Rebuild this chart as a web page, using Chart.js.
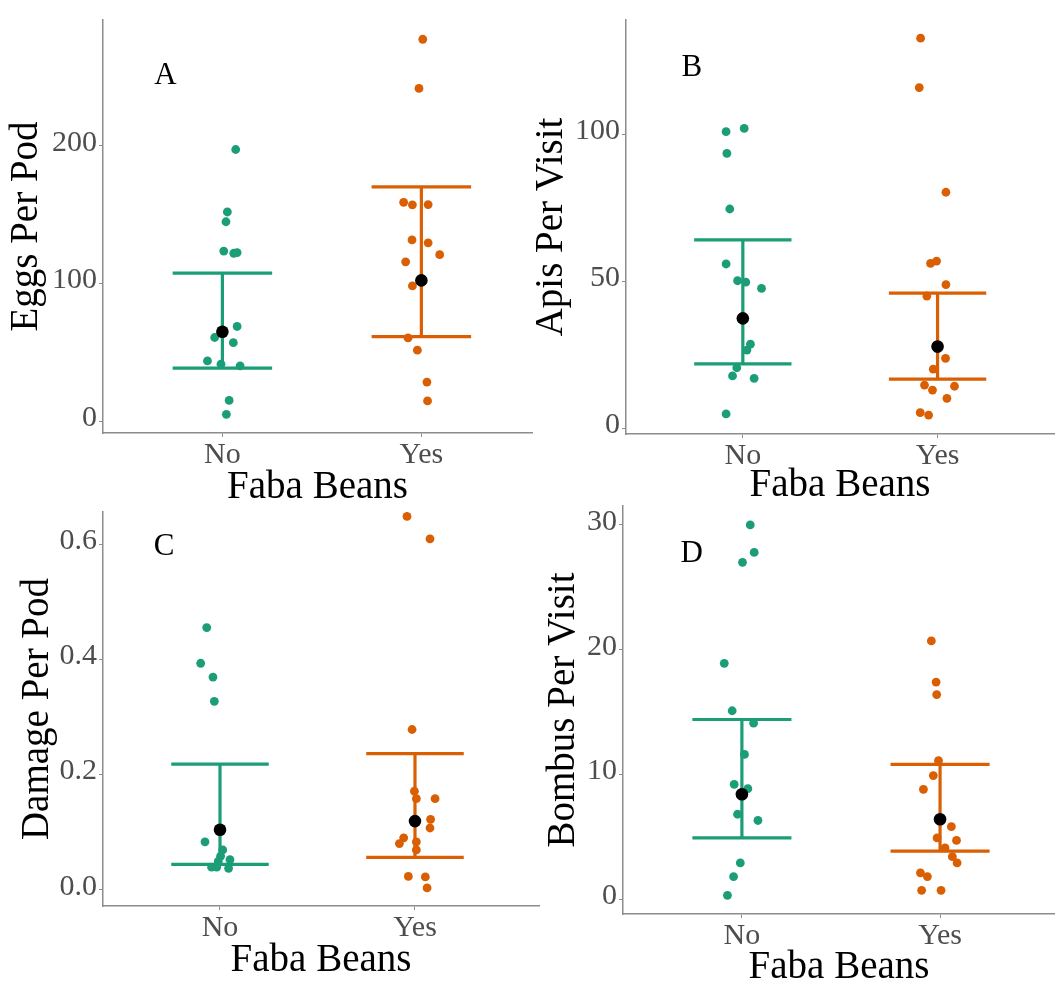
<!DOCTYPE html>
<html>
<head>
<meta charset="utf-8">
<script src="https://cdn.jsdelivr.net/npm/chart.js@4/dist/chart.umd.min.js"></script>
<style>
  html, body { margin: 0; padding: 0; background: #fff; overflow: hidden; }
  .panel { position: absolute; }
</style>
</head>
<body>
<div class="panel" style="left:0px;top:0px;"><canvas id="panelA" width="540" height="511"></canvas></div>
<div class="panel" style="left:526px;top:0px;"><canvas id="panelB" width="529" height="509"></canvas></div>
<div class="panel" style="left:0px;top:480px;"><canvas id="panelC" width="545" height="504"></canvas></div>
<div class="panel" style="left:526px;top:480px;"><canvas id="panelD" width="529" height="511"></canvas></div>
<script>
// categorias del eje x
const groups = ['No', 'Yes'];
const xTitle = 'Faba Beans';

// Panel A - Eggs Per Pod
const eggsNoX  = [1.067, 1.025, 1.018, 1.007, 1.057, 1.074, 1.074, 0.961, 1.055, 0.925, 0.993, 1.089, 1.034, 1.020];
const eggsNoY  = [197.4, 152, 144.9, 123.6, 122, 122.5, 68.8, 60.8, 57, 43.8, 41.4, 40.2, 15.1, 5];
const eggsYesX = [2.007, 1.988, 1.911, 1.955, 2.034, 1.953, 2.034, 2.092, 1.921, 1.955, 1.933, 1.980, 2.028, 2.031];
const eggsYesY = [277.5, 241.8, 159, 157.2, 157.4, 131.7, 129.6, 121, 115.8, 98.3, 60.5, 51.6, 28.4, 14.7];
const eggsMean = [65, 102.3];
const eggsLow  = [38.5, 61.5];
const eggsHigh = [107.6, 170.2];
const eggsTicks = [0, 100, 200];

// Panel B - Apis Per Visit
const apisNoX  = [0.914, 1.007, 0.918, 0.933, 0.914, 0.973, 1.015, 1.096, 1.039, 1.021, 0.969, 0.947, 1.058, 0.914];
const apisNoY  = [100.9, 102, 93.5, 74.6, 55.9, 50.2, 49.7, 47.6, 28.6, 26.6, 20.6, 17.8, 17, 4.9];
const apisYesX = [1.913, 1.906, 2.043, 1.964, 1.995, 2.043, 1.945, 2.041, 1.978, 1.933, 1.974, 2.087, 2.048, 1.911, 1.954];
const apisYesY = [132.7, 115.9, 80.3, 56.1, 56.9, 48.9, 45, 23.8, 20.1, 14.7, 13, 14.3, 10.2, 5.3, 4.5];
const apisMean = [37.4, 27.8];
const apisLow  = [21.9, 16.7];
const apisHigh = [64.1, 46];
const apisTicks = [0, 50, 100];

// Panel C - Damage Per Pod
const dmgNoX  = [0.932, 0.901, 0.964, 0.971, 1.003, 0.923, 1.014, 1.003, 0.991, 1.051, 0.957, 0.983, 1.044];
const dmgNoY  = [0.455, 0.393, 0.369, 0.327, 0.104, 0.083, 0.069, 0.058, 0.049, 0.052, 0.039, 0.039, 0.037];
const dmgYesX = [1.959, 2.077, 1.985, 1.997, 2.007, 2.103, 2.080, 2.077, 1.942, 1.920, 2.007, 2.007, 1.966, 2.053, 2.062];
const dmgYesY = [0.648, 0.609, 0.278, 0.171, 0.158, 0.158, 0.122, 0.107, 0.090, 0.080, 0.083, 0.069, 0.023, 0.022, 0.003];
const dmgMean = [0.104, 0.119];
const dmgLow  = [0.044, 0.056];
const dmgHigh = [0.218, 0.236];
const dmgTicks = [0, 0.2, 0.4, 0.6];

// Panel D - Bombus Per Visit
const bombNoX  = [1.042, 1.062, 1.003, 0.911, 0.951, 1.059, 1.013, 0.961, 1.030, 0.978, 1.081, 0.992, 0.958, 0.927];
const bombNoY  = [30.0, 27.8, 27.0, 18.9, 15.1, 14.1, 11.6, 9.2, 8.85, 6.8, 6.3, 2.9, 1.8, 0.3];
const bombYesX = [1.956, 1.980, 1.983, 1.992, 1.966, 1.916, 2.057, 1.985, 2.083, 2.025, 2.062, 2.086, 1.901, 1.936, 1.907, 2.005];
const bombYesY = [20.7, 17.4, 16.4, 11.1, 9.9, 8.8, 5.8, 4.9, 4.7, 4.1, 3.4, 2.9, 2.1, 1.8, 0.7, 0.7];
const bombMean = [8.4, 6.4];
const bombLow  = [4.9, 3.85];
const bombHigh = [14.4, 10.8];
const bombTicks = [0, 10, 20, 30];

const colNo = '#1B9E77';
const colYes = '#D95F02';
const axisGrey = '#8c8c8c';
const FONT = "'Liberation Serif', 'Times New Roman', serif";

// Letra del panel (A, B, C, D)
const panelLetterPlugin = {
    id: 'panelLetter',
    afterDatasetsDraw(chart, args, opts) {
        const ctx = chart.ctx;
        ctx.save();
        ctx.font = `31px ${FONT}`;
        ctx.fillStyle = '#000';
        ctx.textAlign = 'center';
        ctx.textBaseline = 'alphabetic';
        ctx.fillText(opts.text, chart.scales.x.getPixelForValue(opts.x), chart.scales.y.getPixelForValue(opts.y) + 10);
        ctx.restore();
    }
};

function zip(xs, ys) {
    return xs.map((x, i) => ({ x: x, y: ys[i] }));
}

function buildPanel(id, cfg) {
    const datasets = [];
    const cap = 0.25;
    [colNo, colYes].forEach((col, g) => {
        const cx = g + 1;
        // barra de error: vertical + dos topes
        datasets.push({ data: [{ x: cx, y: cfg.low[g] }, { x: cx, y: cfg.high[g] }], borderColor: col, borderWidth: 3.2, showLine: true, pointRadius: 0, order: 3 });
        datasets.push({ data: [{ x: cx - cap, y: cfg.high[g] }, { x: cx + cap, y: cfg.high[g] }], borderColor: col, borderWidth: 3.2, showLine: true, pointRadius: 0, order: 3 });
        datasets.push({ data: [{ x: cx - cap, y: cfg.low[g] }, { x: cx + cap, y: cfg.low[g] }], borderColor: col, borderWidth: 3.2, showLine: true, pointRadius: 0, order: 3 });
    });
    datasets.push({ data: zip(cfg.noX, cfg.noY), backgroundColor: colNo, borderWidth: 0, pointRadius: 4.4, order: 2 });
    datasets.push({ data: zip(cfg.yesX, cfg.yesY), backgroundColor: colYes, borderWidth: 0, pointRadius: 4.4, order: 2 });
    datasets.push({ data: zip([1, 2], cfg.mean), backgroundColor: '#000', borderWidth: 0, pointRadius: 6.3, order: 1 });

    return new Chart(document.getElementById(id), {
        type: 'scatter',
        data: { datasets: datasets },
        plugins: [panelLetterPlugin],
        options: {
            responsive: false,
            animation: false,
            layout: { autoPadding: false, padding: { top: cfg.padTop, right: cfg.padRight, left: 0, bottom: 0 } },
            plugins: {
                legend: { display: false },
                tooltip: { enabled: false },
                panelLetter: cfg.letter
            },
            scales: {
                x: {
                    type: 'linear',
                    min: 0.4,
                    max: cfg.xMax,
                    afterBuildTicks: s => { s.ticks = [{ value: 1 }, { value: 2 }]; },
                    afterFit: s => { s.height = cfg.xh; },
                    border: { display: true, color: axisGrey, width: 1.5 },
                    grid: { drawOnChartArea: false, drawTicks: true, tickLength: 4, color: axisGrey },
                    ticks: {
                        autoSkip: false, maxRotation: 0, padding: 0,
                        color: '#4d4d4d',
                        font: { family: FONT, size: 30 },
                        callback: v => groups[Math.round(v) - 1]
                    },
                    title: { display: true, text: xTitle, color: '#000', font: { family: FONT, size: 39 }, padding: { top: 0, bottom: 0 } }
                },
                y: {
                    min: cfg.yMin,
                    max: cfg.yMax,
                    afterBuildTicks: s => { s.ticks = cfg.yTicks.map(v => ({ value: v })); },
                    afterFit: s => { s.width = cfg.yw; },
                    border: { display: true, color: axisGrey, width: 1.5 },
                    grid: { drawOnChartArea: false, drawTicks: true, tickLength: 4, color: axisGrey },
                    ticks: {
                        padding: 2, labelOffset: -3,
                        color: '#4d4d4d',
                        font: { family: FONT, size: 30 },
                        callback: v => cfg.decimals ? v.toFixed(cfg.decimals) : String(v)
                    },
                    title: { display: true, text: cfg.yTitle, color: '#000', font: { family: FONT, size: 39 }, padding: { top: cfg.yTitlePad, bottom: 0 } }
                }
            }
        }
    });
}

buildPanel('panelA', {
    noX: eggsNoX, noY: eggsNoY, yesX: eggsYesX, yesY: eggsYesY,
    mean: eggsMean, low: eggsLow, high: eggsHigh, yTicks: eggsTicks,
    yMin: -8.6, yMax: 291.5, xMax: 2.556, yTitle: 'Eggs Per Pod', yTitlePad: 3,
    yw: 103, xh: 78, padTop: 10, padRight: 8,
    letter: { text: 'A', x: 0.714, y: 252 }
});
buildPanel('panelB', {
    noX: apisNoX, noY: apisNoY, yesX: apisYesX, yesY: apisYesY,
    mean: apisMean, low: apisLow, high: apisHigh, yTicks: apisTicks,
    yMin: -1.94, yMax: 138.9, xMax: 2.598, yTitle: 'Apis Per Visit', yTitlePad: 2,
    yw: 100, xh: 75, padTop: 20, padRight: 1,
    letter: { text: 'B', x: 0.738, y: 123.2 }
});
buildPanel('panelC', {
    noX: dmgNoX, noY: dmgNoY, yesX: dmgYesX, yesY: dmgYesY,
    mean: dmgMean, low: dmgLow, high: dmgHigh, yTicks: dmgTicks, decimals: 1,
    yMin: -0.0284, yMax: 0.6556, xMax: 2.636, yTitle: 'Damage Per Pod', yTitlePad: 14,
    yw: 103, xh: 78, padTop: 32, padRight: 6,
    letter: { text: 'C', x: 0.713, y: 0.599 }
});
buildPanel('panelD', {
    noX: bombNoX, noY: bombNoY, yesX: bombYesX, yesY: bombYesY,
    mean: bombMean, low: bombLow, high: bombHigh, yTicks: bombTicks,
    yMin: -1.2, yMax: 31.52, xMax: 2.58, yTitle: 'Bombus Per Visit', yTitlePad: 14,
    yw: 97, xh: 77, padTop: 26, padRight: 0,
    letter: { text: 'D', x: 0.747, y: 27.8 }
});
</script>
</body>
</html>
